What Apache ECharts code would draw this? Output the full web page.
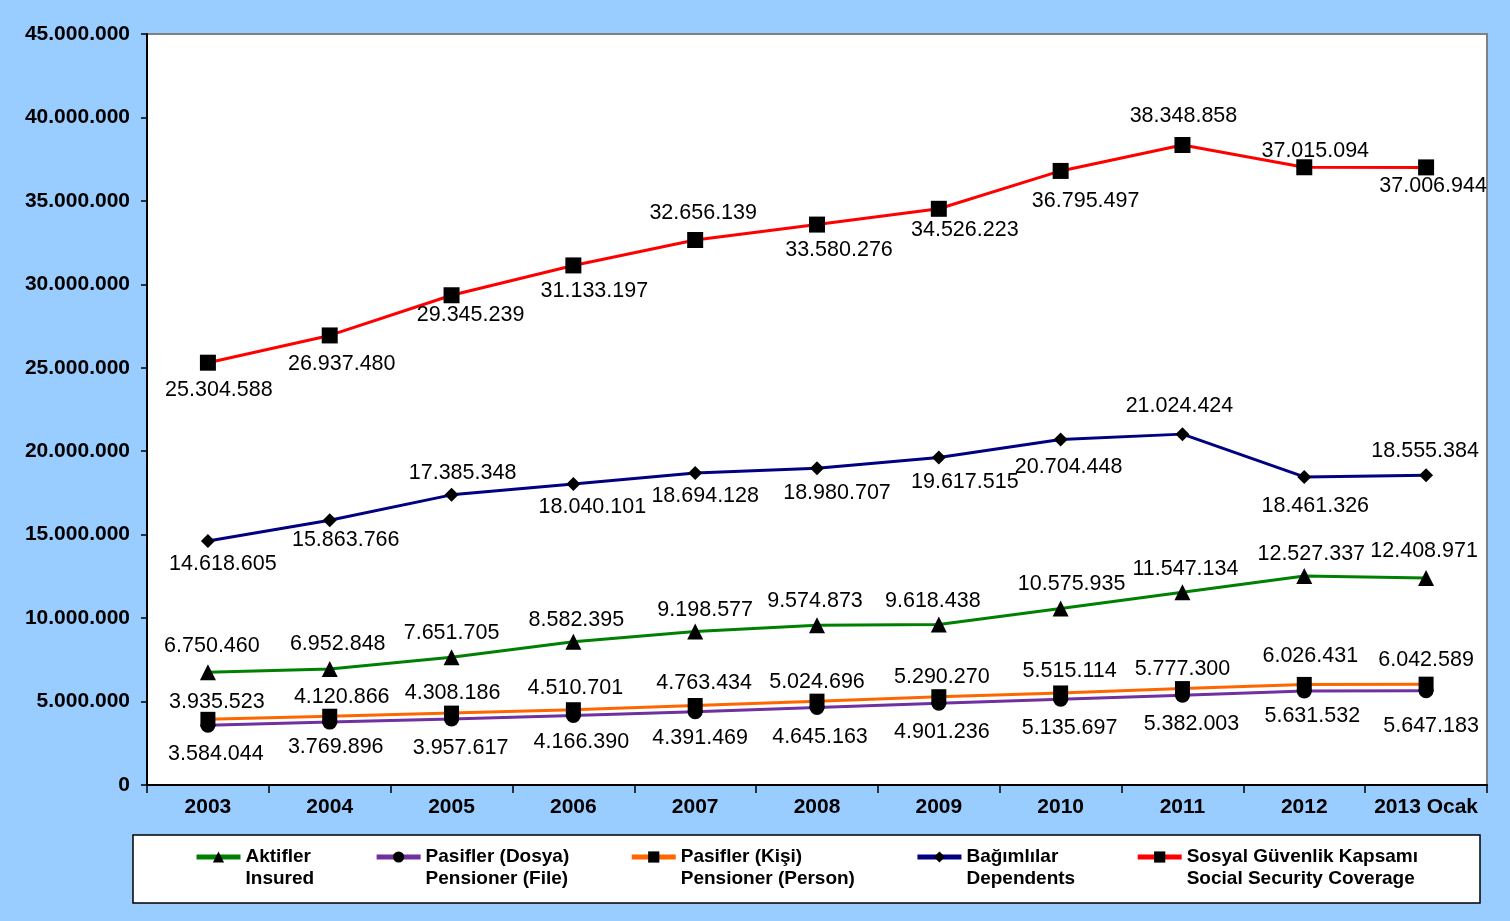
<!DOCTYPE html>
<html><head><meta charset="utf-8">
<script src="https://cdn.jsdelivr.net/npm/echarts@6/dist/echarts.min.js"></script>
<style>html,body{margin:0;padding:0;background:#99CCFF;}#c{width:1510px;height:921px;}</style>
</head><body><div id="c"></div>
<script>
const categories = ['2003','2004','2005','2006','2007','2008','2009','2010','2011','2012','2013 Ocak'];
const yTicks = [0, 5000000, 45000000];
const aktifler = [6750460, 6952848, 7651705, 8582395, 9198577, 9574873, 9618438, 10575935, 11547134, 12527337, 12408971];
const pasiflerDosya = [3584044, 3769896, 3957617, 4166390, 4391469, 4645163, 4901236, 5135697, 5382003, 5631532, 5647183];
const pasiflerKisi = [3935523, 4120866, 4308186, 4510701, 4763434, 5024696, 5290270, 5515114, 5777300, 6026431, 6042589];
const bagimlilar = [14618605, 15863766, 17385348, 18040101, 18694128, 18980707, 19617515, 20704448, 21024424, 18461326, 18555384];
const sosyal = [25304588, 26937480, 29345239, 31133197, 32656139, 33580276, 34526223, 36795497, 38348858, 37015094, 37006944];
const seriesNames = ['Aktifler\nInsured','Pasifler (Dosya)\nPensioner (File)','Pasifler (Kişi)\nPensioner (Person)','Bağımlılar\nDependents','Sosyal Güvenlik Kapsamı\nSocial Security Coverage'];

// label placement (style only)
const offGreen = [[4,-26],[8,-25],[0,-24],[3,-22],[10,-21],[-2,-24],[-6,-23],[11,-24],[3,-23],[7,-22],[-2,-27]];
const offPurple = [[8,29],[6,25],[9,29],[8,27],[5,26],[3,30],[3,29],[9,29],[9,29],[8,25],[5,35]];
const offOrange = [[9,-17],[12,-19],[1,-20],[2,-22],[9,-22],[0,-19],[3,-20],[9,-22],[0,-20],[6,-28],[0,-24]];
const offBlue = [[15,23],[16,20],[11,-22],[19,23],[10,23],[20,25],[26,24],[8,28],[-3,-28],[11,29],[-1,-24]];
const offRed = [[11,27],[12,29],[19,20],[21,26],[8,-27],[22,25],[26,21],[25,30],[1,-29],[11,-16],[7,19]];

function fmt(v){ return String(v).replace(/\B(?=(\d{3})+(?!\d))/g,'.'); }

function mk(name, data, color, symbol, size, offs){
  return {
    name: name, type:'line', data: data.map((v,i)=>({value:v, label:{offset:offs[i]}})),
    symbol: symbol, symbolSize: size,
    lineStyle:{color:color, width:3},
    itemStyle:{color:'#000'},
    label:{show:true, position:'inside', formatter:p=>fmt(p.value), fontFamily:'Liberation Sans, Arial', fontSize:21.5, color:'#000'},
    emphasis:{disabled:true},
    z: 2
  };
}

const chart = echarts.init(document.getElementById('c'));
chart.setOption({
  backgroundColor:'#99CCFF',
  animation:false,
  textStyle:{fontFamily:'Liberation Sans, Arial'},
  grid:{left:147, right:23, top:34, bottom:136, show:true, backgroundColor:'#fff', borderColor:'#808080', borderWidth:2},
  xAxis:{type:'category', data:categories, boundaryGap:true,
    axisLine:{lineStyle:{color:'#000', width:2}},
    axisTick:{show:true, interval:0, length:8, lineStyle:{color:'#000', width:1.5}},
    axisLabel:{interval:0, fontWeight:'bold', fontSize:21, color:'#000', margin:12}},
  yAxis:{type:'value', min:yTicks[0], max:yTicks[2], interval:yTicks[1],
    axisLine:{show:true, lineStyle:{color:'#000', width:2}},
    axisTick:{show:true, length:6, lineStyle:{color:'#000', width:1.5}},
    splitLine:{show:false},
    axisLabel:{fontWeight:'bold', fontSize:21, color:'#000', margin:17, formatter:v=>fmt(v)}},
  graphic:[{type:'rect', shape:{x:133, y:835, width:1347, height:68}, style:{fill:'#fff', stroke:'#000', lineWidth:1.5}, z:-1}],
  legend:{top:819, left:189, itemGap:60, itemWidth:44, itemHeight:14,
    formatter:n=>'\n'+n,
    lineStyle:{width:5},
    textStyle:{fontWeight:'bold', fontSize:19, color:'#000', lineHeight:22},
    data:seriesNames},
  series:[
    mk(seriesNames[0], aktifler, '#008000', 'triangle', 16, offGreen),
    mk(seriesNames[1], pasiflerDosya, '#7030A0', 'circle', 15, offPurple),
    mk(seriesNames[2], pasiflerKisi, '#FF6600', 'rect', 15, offOrange),
    mk(seriesNames[3], bagimlilar, '#000080', 'diamond', 14, offBlue),
    mk(seriesNames[4], sosyal, '#FF0000', 'rect', 16, offRed)
  ]
});
</script></body></html>
